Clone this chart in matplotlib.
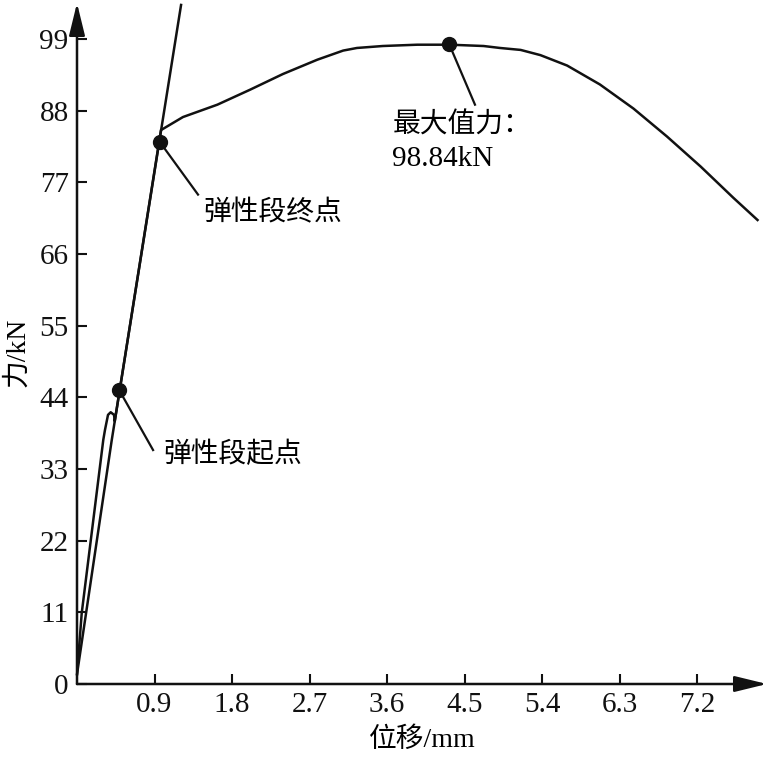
import numpy as np
import matplotlib.pyplot as plt

plt.rcParams['font.family'] = ['Liberation Serif', 'Noto Sans CJK SC']

# load-displacement curve (mm, kN)
disp = [0.0, 0.055, 0.305, 0.325, 0.36, 0.391, 0.43, 0.438, 0.975,
        1.23, 1.63, 2.01, 2.39, 2.79, 3.09, 3.25, 3.55, 3.95, 4.33,
        4.72, 4.91, 5.15, 5.38, 5.69, 6.07, 6.46, 6.85, 7.24, 7.62, 7.90]
force = [1.5, 10.9, 37.45, 39.0, 41.3, 41.7, 41.3, 40.3, 85.0,
         87.0, 88.9, 91.2, 93.6, 95.8, 97.2, 97.6, 97.9, 98.1, 98.1,
         97.9, 97.6, 97.3, 96.5, 94.9, 92.0, 88.3, 84.0, 79.4, 74.6, 71.2]

# elastic line
fit_x = [0.0, 0.403, 1.208]
fit_y = [1.5, 37.4, 104.2]

# marked points
pt_x = [0.49, 0.96, 4.32]
pt_y = [45.1, 83.2, 98.2]
pt_text = ['弹性段起点', '弹性段终点', '最大值力：']

xticks = [0.9, 1.8, 2.7, 3.6, 4.5, 5.4, 6.3, 7.2]
yticks = [0, 11, 22, 33, 44, 55, 66, 77, 88, 99]

W, H = 771, 758
fig = plt.figure(figsize=(W / 100, H / 100), dpi=100)
ax = fig.add_axes([77 / W, (H - 684) / H, (767 - 77) / W, (684 - 3) / H])
ax.set_xlim(0, 8.01)
ax.set_ylim(0, 104.5)

ax.plot(disp, force, color='#111111', lw=1.8, solid_joinstyle='round')
ax.plot(fit_x, fit_y, color='#111111', lw=1.8, clip_on=False)
ax.plot(pt_x, pt_y, 'o', color='#111111', ms=10, zorder=5)

# leader lines and labels
lead_end = [(0.883, 35.9), (1.405, 75.1), (4.62, 88.9)]
txt_pos = [(1.0, 35.1), (1.463, 72.3), (3.66, 85.7)]
for i in range(3):
    ax.plot([pt_x[i], lead_end[i][0]], [pt_y[i], lead_end[i][1]],
            color='#111111', lw=1.6)
    ax.text(txt_pos[i][0], txt_pos[i][1], pt_text[i], fontsize=20,
            ha='left', va='center')
ax.text(3.66, 80.5, '98.84kN', fontsize=21, ha='left', va='center')

for s in ax.spines.values():
    s.set_visible(False)

arrow = dict(arrowstyle='-|>,head_length=0.9,head_width=0.22',
             color='#111111', lw=1.8, mutation_scale=22, shrinkA=0, shrinkB=0)
ax.annotate('', xy=(1, 0), xytext=(0, 0), xycoords='axes fraction',
            arrowprops=arrow)
ax.annotate('', xy=(0, 1), xytext=(0, 0), xycoords='axes fraction',
            arrowprops=arrow)

ax.set_xticks(xticks)
ax.set_xticklabels([str(v) for v in xticks])
ax.set_yticks(yticks)
ax.tick_params(direction='in', length=7, width=1.5, labelsize=21,
               color='#111111', labelcolor='#111111')
ax.tick_params(axis='y', pad=6)
ax.tick_params(axis='x', pad=6)

fig.text(422 / W, 1 - 740 / H, '位移/mm', fontsize=20, ha='center', va='center')
fig.text(18 / W, 1 - 352 / H, '力/kN', fontsize=20, ha='center', va='center',
         rotation=90)

fig.savefig('out.png', dpi=100)
